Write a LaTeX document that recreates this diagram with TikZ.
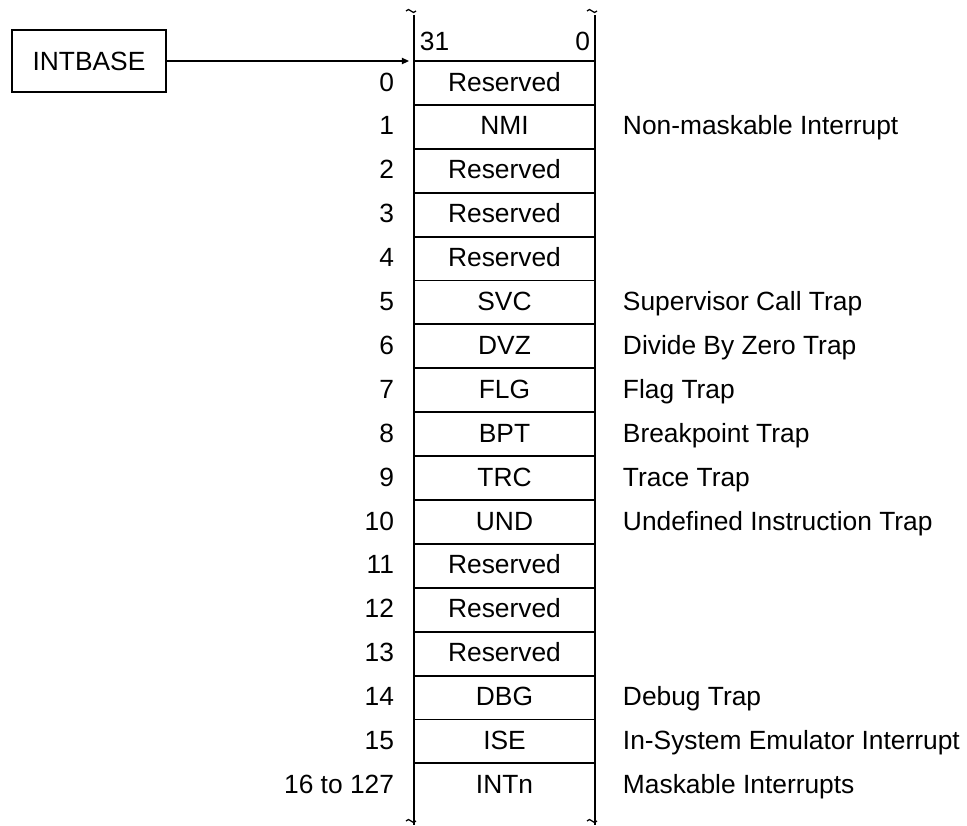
\documentclass[tikz,border=0pt]{standalone}
\usepackage{fontspec}
\setmainfont{Liberation Sans}
\usetikzlibrary{positioning}
\usetikzlibrary{arrows.meta}

\begin{document}
\begin{tikzpicture}[x=0.02cm, y=-0.02cm, line width=1.1pt,
		every node/.style={font=\fontsize{15}{18}\selectfont, inner sep=0pt},
		brk/.style={line width=0.7pt},
		entry/.style={anchor=base}]
	\useasboundingbox (0,0) rectangle (967,825);
	% the two columns of the table
	\coordinate (tl) at (414,15);
	\coordinate (tr) at (595,15);
	\coordinate (bl) at (414,825);
	\coordinate (br) at (595,825);
	\draw (tl) -- (bl);
	\draw (tr) -- (br);
	\foreach \c in {tl,tr,bl,br}
		\draw[brk] (\c) ++(-8,-4) sin ++(2.5,-1.5) cos ++(2.5,1.5) sin ++(2.5,1.5) cos ++(2.5,-1.5);
	% bit numbers
	\node[anchor=base west] (hi) at (419,50) {31};
	\node[anchor=base east] (lo) at (591,50) {0};
	% row separators
	\foreach \k in {0,...,16}
		\draw (414,61+43.9*\k) -- (595,61+43.9*\k);
	% entries
	\foreach \i/\lab/\fld/\desc in {0/0/Reserved/{},
			1/1/NMI/Non-maskable Interrupt,
			2/2/Reserved/{},
			3/3/Reserved/{},
			4/4/Reserved/{},
			5/5/SVC/Supervisor Call Trap,
			6/6/DVZ/Divide By Zero Trap,
			7/7/FLG/Flag Trap,
			8/8/BPT/Breakpoint Trap,
			9/9/TRC/Trace Trap,
			10/10/UND/Undefined Instruction Trap,
			11/11/Reserved/{},
			12/12/Reserved/{},
			13/13/Reserved/{},
			14/14/DBG/Debug Trap,
			15/15/ISE/In-System Emulator Interrupt,
			16/16 to 127/INTn/Maskable Interrupts}{
		\node[entry] (f\i) at (504.5,91+43.9*\i) {\fld};
		\node[entry, anchor=base east] (n\i) at (395,91+43.9*\i) {\lab};
		\node[entry, anchor=base west] (d\i) at (622,91+43.9*\i) {\desc};
	}
	% base register
	\node[draw, minimum width=3.08cm, minimum height=1.24cm] (base) at (89,61) {INTBASE};
	\coordinate (tip) at (409,61);
	\draw[-{Triangle[length=4pt,width=3.5pt]}] (base) -- (tip);
\end{tikzpicture}
\end{document}
